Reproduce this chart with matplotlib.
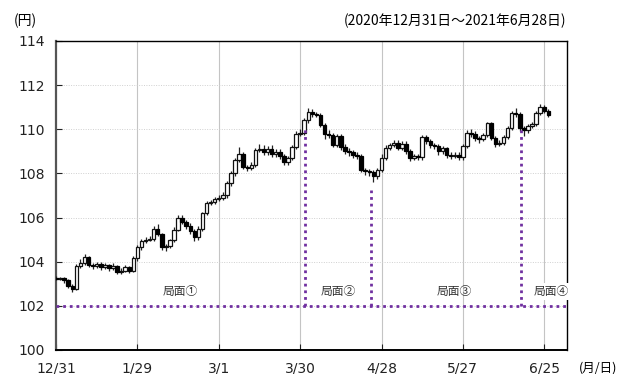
import numpy as np
import matplotlib.pyplot as plt

plt.rcParams['font.family'] = ['DejaVu Sans', 'Noto Sans CJK JP']

# USD/JPY daily candles, 2020-12-31 .. 2021-06-28 (index = trading day)
opens = [103.28, 103.22, 103.25, 103.15, 102.90, 102.75, 103.80, 103.95, 104.20, 103.85,
         103.80, 103.90, 103.75, 103.85, 103.70, 103.80, 103.55, 103.60, 103.75, 103.60,
         104.15, 104.65, 104.95, 105.00, 105.05, 105.50, 105.25, 104.65, 104.70, 105.00,
         105.45, 106.00, 105.80, 105.60, 105.40, 105.10, 105.50, 106.20, 106.65, 106.70,
         106.85, 106.90, 107.00, 107.55, 108.00, 108.60, 108.90, 108.30, 108.25, 108.40,
         109.05, 109.10, 108.95, 109.10, 108.90, 108.95, 108.80, 108.50, 108.70, 109.20,
         109.80, 109.85, 110.40, 110.80, 110.70, 110.65, 110.20, 109.80, 109.75, 109.30,
         109.70, 109.20, 109.00, 108.95, 108.85, 108.80, 108.15, 108.10, 108.05, 107.90,
         108.15, 108.70, 109.15, 109.30, 109.40, 109.15, 109.35, 109.00, 108.70, 108.80,
         108.75, 109.65, 109.45, 109.30, 109.25, 109.00, 109.15, 108.85, 108.80, 108.85,
         108.75, 109.25, 109.85, 109.80, 109.60, 109.55, 109.75, 110.30, 109.60, 109.35,
         109.40, 109.65, 110.05, 110.75, 110.70, 110.05, 109.95, 110.15, 110.25, 110.75,
         111.00, 110.85]
closes = [103.22, 103.25, 103.15, 102.90, 102.75, 103.80, 103.95, 104.20, 103.85, 103.80,
          103.90, 103.75, 103.85, 103.70, 103.80, 103.55, 103.60, 103.75, 103.60, 104.15,
          104.65, 104.95, 105.00, 105.05, 105.50, 105.25, 104.65, 104.70, 105.00, 105.45,
          106.00, 105.80, 105.60, 105.40, 105.10, 105.50, 106.20, 106.65, 106.70, 106.85,
          106.90, 107.00, 107.55, 108.00, 108.60, 108.90, 108.30, 108.25, 108.40, 109.05,
          109.10, 108.95, 109.10, 108.90, 108.95, 108.80, 108.50, 108.70, 109.20, 109.80,
          109.85, 110.40, 110.80, 110.70, 110.65, 110.20, 109.80, 109.75, 109.30, 109.70,
          109.20, 109.00, 108.95, 108.85, 108.80, 108.15, 108.10, 108.05, 107.90, 108.15,
          108.70, 109.15, 109.30, 109.40, 109.15, 109.35, 109.00, 108.70, 108.80, 108.75,
          109.65, 109.45, 109.30, 109.25, 109.00, 109.15, 108.85, 108.80, 108.85, 108.75,
          109.25, 109.85, 109.80, 109.60, 109.55, 109.75, 110.30, 109.60, 109.35, 109.40,
          109.65, 110.05, 110.75, 110.70, 110.05, 109.95, 110.15, 110.25, 110.75, 111.00,
          110.85, 110.65]
highs = [103.35, 103.32, 103.30, 103.20, 102.98, 103.90, 104.10, 104.35, 104.25, 103.95,
         104.00, 103.98, 103.92, 103.90, 103.95, 103.85, 103.72, 103.85, 103.82, 104.25,
         104.75, 105.05, 105.10, 105.15, 105.60, 105.70, 105.30, 104.80, 105.05, 105.55,
         106.10, 106.10, 105.90, 105.75, 105.50, 105.60, 106.25, 106.75, 106.80, 106.95,
         107.00, 107.15, 107.65, 108.10, 108.70, 109.20, 108.95, 108.40, 108.50, 109.15,
         109.35, 109.30, 109.25, 109.30, 109.10, 109.10, 108.90, 108.80, 109.30, 109.90,
         110.00, 110.50, 110.95, 110.90, 110.80, 110.75, 110.30, 109.95, 109.85, 109.80,
         109.80, 109.35, 109.15, 109.05, 108.95, 108.90, 108.25, 108.20, 108.15, 108.25,
         108.90, 109.30, 109.40, 109.50, 109.50, 109.45, 109.45, 109.10, 108.90, 108.90,
         109.75, 109.75, 109.55, 109.40, 109.35, 109.25, 109.20, 108.95, 108.95, 108.95,
         109.35, 109.95, 110.00, 109.90, 109.70, 109.85, 110.35, 110.35, 109.70, 109.50,
         109.75, 110.15, 110.85, 110.95, 110.80, 110.15, 110.25, 110.35, 110.85, 111.15,
         111.10, 110.90]
lows = [103.15, 103.15, 103.05, 102.80, 102.62, 102.70, 103.70, 103.85, 103.75, 103.65,
        103.70, 103.62, 103.68, 103.58, 103.62, 103.45, 103.45, 103.52, 103.50, 103.55,
        104.05, 104.55, 104.85, 104.92, 104.95, 105.15, 104.55, 104.50, 104.60, 104.90,
        105.40, 105.70, 105.50, 105.25, 104.95, 105.00, 105.40, 106.10, 106.55, 106.60,
        106.75, 106.80, 106.90, 107.45, 107.90, 108.50, 108.20, 108.10, 108.15, 108.30,
        108.95, 108.85, 108.85, 108.75, 108.75, 108.65, 108.40, 108.40, 108.60, 109.10,
        109.70, 109.75, 110.30, 110.55, 110.55, 110.10, 109.55, 109.60, 109.20, 109.20,
        109.05, 108.90, 108.80, 108.70, 108.65, 108.05, 107.95, 107.90, 107.60, 107.75,
        108.05, 108.60, 109.05, 109.20, 109.05, 109.05, 108.90, 108.55, 108.60, 108.60,
        108.60, 109.35, 109.15, 109.10, 108.85, 108.90, 108.70, 108.65, 108.70, 108.60,
        108.60, 109.15, 109.65, 109.45, 109.40, 109.45, 109.65, 109.50, 109.20, 109.25,
        109.30, 109.55, 109.95, 110.55, 109.90, 109.70, 109.85, 110.05, 110.15, 110.65,
        110.75, 110.55]

tick_pos = [0, 20, 40, 60, 80, 100, 120]
tick_labels = ["12/31", "1/29", "3/1", "3/30", "4/28", "5/27", "6/25"]

# phase boundaries (trading-day index) and their upper ends
phase_x = [61.2, 77.4, 114.4]
phase_top = [110.05, 107.25, 110.05]
phase_base = 102.0
phase_names = ["局面①", "局面②", "局面③", "局面④"]
phase_label_x = [30.5, 69.3, 97.8, 121.7]

fig = plt.figure(figsize=(6.17, 3.74), dpi=100)
ax = fig.add_axes([0.0908, 0.0642, 0.8282, 0.8262])

x = np.arange(len(closes))
o = np.array(opens)
c = np.array(closes)
up = c >= o
ax.vlines(x, lows, highs, color="#222222", linewidth=0.9, zorder=3)
bottom = np.minimum(o, c)
height = np.maximum(np.abs(c - o), 0.02)
ax.bar(x[up], height[up], bottom=bottom[up], width=0.85, color="white",
       edgecolor="#111111", linewidth=0.9, zorder=4)
ax.bar(x[~up], height[~up], bottom=bottom[~up], width=0.85, color="black",
       edgecolor="black", linewidth=0.9, zorder=4)

purple = "#7030a0"
ax.axhline(phase_base, color=purple, linewidth=2, linestyle=(0, (1, 1.4)), zorder=5)
for px, pt in zip(phase_x, phase_top):
    ax.plot([px, px], [phase_base, pt], color=purple, linewidth=2,
            linestyle=(0, (1, 1.4)), zorder=5)
for name, lx in zip(phase_names, phase_label_x):
    t = ax.text(lx, 102.65, name, ha="center", va="center", fontsize=8.5,
                family=["Noto Sans CJK JP", "DejaVu Sans"], color="#333333",
                zorder=10, clip_on=False)
    if name == "局面④":
        t.set_bbox(dict(facecolor="white", edgecolor="none", pad=1.5))

ax.set_xlim(0, 125.6)
ax.set_ylim(100, 114)
ax.set_yticks(range(100, 115, 2))
ax.set_xticks(tick_pos)
ax.set_xticklabels(tick_labels)
ax.tick_params(direction="in", length=4, labelsize=10, colors="#222222")
ax.tick_params(axis="x", pad=8)
ax.tick_params(axis="y", pad=8)

for tp in tick_pos[1:]:
    ax.axvline(tp, color="#c4c4c4", linewidth=0.8, zorder=1)
for yv in range(102, 114, 2):
    ax.axhline(yv, color="#d0d0d0", linewidth=0.7, linestyle=(0, (1, 1.5)), zorder=1)

for s in ["top", "right"]:
    ax.spines[s].set_linewidth(1.0)
    ax.spines[s].set_zorder(6)
ax.spines["left"].set_linewidth(1.6)
ax.spines["left"].set_color("#555555")
ax.spines["bottom"].set_linewidth(1.4)

jp = ["Noto Sans CJK JP", "DejaVu Sans"]
fig.text(0.022, 0.945, "(円)", fontsize=10, family=jp, ha="left", va="center")
fig.text(0.917, 0.945, "(2020年12月31日～2021年6月28日)", fontsize=10, family=jp,
         ha="right", va="center")
fig.text(0.938, 0.015, "(月/日)", fontsize=9, family=jp, ha="left", va="center")

fig.savefig("out.png", dpi=100)
